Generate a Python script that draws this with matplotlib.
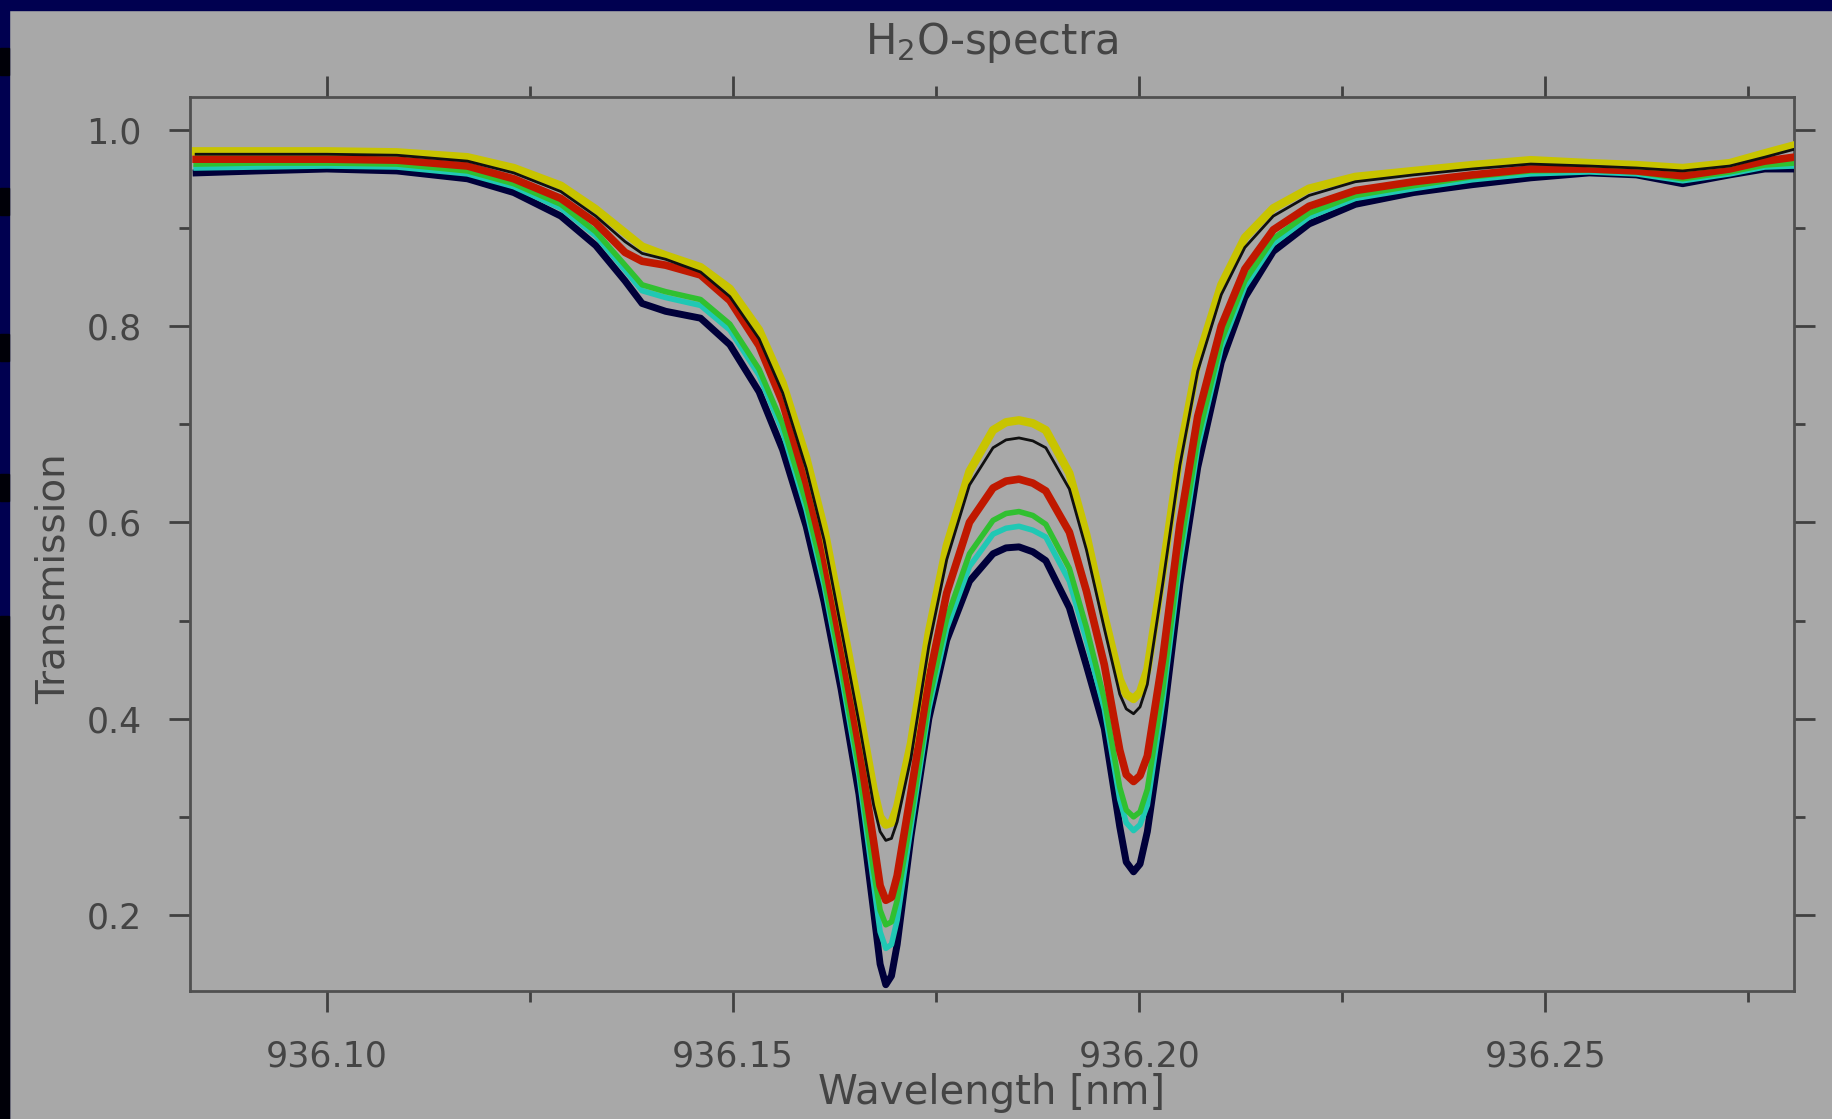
#!/usr/bin/python

# Water vapour transmission spectra around 936.2 nm, one curve per measurement

import matplotlib.pyplot as plt
from matplotlib.patches import Rectangle
from matplotlib.ticker import MultipleLocator, FormatStrFormatter

# wavelength grid [nm]
wavelength = [936.0839, 936.0914, 936.1000, 936.1086, 936.1173, 936.1230,
              936.1288, 936.1331, 936.1367, 936.1388, 936.1417, 936.1460,
              936.1496, 936.1532, 936.1561, 936.1590, 936.1612, 936.1633,
              936.1655, 936.1673, 936.1681, 936.1688, 936.1695, 936.1702,
              936.1719, 936.1741, 936.1763, 936.1791, 936.1820, 936.1836,
              936.1852, 936.1869, 936.1885, 936.1914, 936.1935, 936.1957,
              936.1976, 936.1984, 936.1993, 936.2001, 936.2010, 936.2029,
              936.2050, 936.2072, 936.2101, 936.2130, 936.2165, 936.2209,
              936.2266, 936.2338, 936.2410, 936.2482, 936.2554, 936.2612,
              936.2669, 936.2727, 936.2770, 936.2806]

trans_navy = [0.956, 0.958, 0.960, 0.958, 0.950, 0.936, 0.912, 0.882, 0.846,
              0.823, 0.815, 0.808, 0.781, 0.733, 0.674, 0.596, 0.519, 0.430,
              0.323, 0.204, 0.150, 0.129, 0.138, 0.170, 0.280, 0.400, 0.480,
              0.540, 0.568, 0.574, 0.575, 0.570, 0.561, 0.513, 0.454, 0.390,
              0.290, 0.254, 0.244, 0.252, 0.285, 0.394, 0.537, 0.656, 0.763,
              0.829, 0.876, 0.904, 0.924, 0.936, 0.944, 0.951, 0.956, 0.954,
              0.945, 0.954, 0.960, 0.960]

trans_cyan = [0.961, 0.962, 0.963, 0.962, 0.955, 0.942, 0.920, 0.892, 0.857,
              0.836, 0.829, 0.821, 0.796, 0.750, 0.693, 0.613, 0.536, 0.446,
              0.342, 0.232, 0.183, 0.166, 0.170, 0.195, 0.290, 0.410, 0.492,
              0.555, 0.588, 0.594, 0.596, 0.592, 0.585, 0.540, 0.480, 0.410,
              0.318, 0.294, 0.286, 0.292, 0.312, 0.418, 0.558, 0.676, 0.778,
              0.840, 0.884, 0.911, 0.930, 0.940, 0.949, 0.955, 0.957, 0.955,
              0.948, 0.955, 0.962, 0.963]

trans_green = [0.965, 0.966, 0.966, 0.965, 0.958, 0.945, 0.924, 0.896, 0.862,
               0.842, 0.835, 0.827, 0.802, 0.756, 0.700, 0.620, 0.543, 0.454,
               0.350, 0.245, 0.205, 0.190, 0.193, 0.215, 0.300, 0.418, 0.502,
               0.568, 0.602, 0.609, 0.611, 0.607, 0.598, 0.553, 0.493, 0.420,
               0.330, 0.307, 0.300, 0.305, 0.328, 0.430, 0.570, 0.685, 0.785,
               0.846, 0.889, 0.915, 0.933, 0.943, 0.952, 0.958, 0.959, 0.957,
               0.950, 0.957, 0.964, 0.966]

trans_red = [0.970, 0.970, 0.970, 0.969, 0.963, 0.950, 0.930, 0.905, 0.875,
             0.866, 0.862, 0.852, 0.826, 0.780, 0.722, 0.640, 0.565, 0.474,
             0.372, 0.275, 0.230, 0.215, 0.218, 0.240, 0.325, 0.440, 0.528,
             0.600, 0.635, 0.642, 0.644, 0.640, 0.632, 0.590, 0.530, 0.455,
             0.368, 0.343, 0.336, 0.342, 0.362, 0.462, 0.598, 0.708, 0.800,
             0.858, 0.898, 0.922, 0.938, 0.947, 0.954, 0.960, 0.960, 0.958,
             0.953, 0.960, 0.968, 0.972]

trans_black = [0.975, 0.975, 0.975, 0.974, 0.968, 0.956, 0.937, 0.912, 0.886,
               0.874, 0.868, 0.855, 0.830, 0.787, 0.732, 0.655, 0.582, 0.492,
               0.396, 0.312, 0.285, 0.276, 0.278, 0.295, 0.360, 0.474, 0.562,
               0.638, 0.676, 0.684, 0.686, 0.683, 0.676, 0.634, 0.572, 0.492,
               0.425, 0.410, 0.405, 0.412, 0.435, 0.538, 0.658, 0.754, 0.832,
               0.880, 0.912, 0.933, 0.947, 0.954, 0.960, 0.965, 0.963, 0.961,
               0.958, 0.963, 0.972, 0.980]

trans_yellow = [0.978, 0.978, 0.978, 0.977, 0.972, 0.961, 0.943, 0.919, 0.895,
                0.881, 0.872, 0.860, 0.838, 0.796, 0.742, 0.666, 0.594, 0.505,
                0.410, 0.328, 0.300, 0.292, 0.294, 0.310, 0.375, 0.488, 0.576,
                0.652, 0.694, 0.702, 0.704, 0.701, 0.694, 0.650, 0.587, 0.505,
                0.440, 0.425, 0.420, 0.427, 0.450, 0.551, 0.670, 0.765, 0.842,
                0.890, 0.920, 0.940, 0.952, 0.958, 0.964, 0.969, 0.966, 0.964,
                0.961, 0.966, 0.976, 0.984]

y_ticks = [0.2, 0.4, 0.6, 0.8, 1.0]
x_ticks = [936.10, 936.15, 936.20, 936.25]

bg = '#a8a8a8'
txt = '#444444'

fig = plt.figure(figsize=(18.33, 11.19), dpi=100, facecolor=bg)

# slide frame strips along the top and left edge
fig.patches.append(Rectangle((0, 1 - 10 / 1119.), 1, 10 / 1119.,
                             transform=fig.transFigure, color='#000050',
                             zorder=0))
fig.patches.append(Rectangle((0, 0), 9 / 1833., 1, transform=fig.transFigure,
                             color='#000050', zorder=0))
for y0, y1 in [(48, 75), (188, 215), (334, 361), (474, 501), (616, 1119)]:
    fig.patches.append(Rectangle((0, 1 - y1 / 1119.), 9 / 1833.,
                                 (y1 - y0) / 1119., transform=fig.transFigure,
                                 color='#000008', zorder=0))

ax = fig.add_axes([0.1039, 0.1144, 0.8748, 0.7989], facecolor=bg)

ax.plot(wavelength, trans_navy, color='#00003a', lw=5.0, zorder=3)
ax.plot(wavelength, trans_cyan, color='#20c8b4', lw=4.0, zorder=4)
ax.plot(wavelength, trans_green, color='#30c030', lw=4.0, zorder=5)
ax.plot(wavelength, trans_red, color='#c01800', lw=5.5, zorder=6)
ax.plot(wavelength, trans_yellow, color='#c8c400', lw=6.0, zorder=7)
ax.plot(wavelength, trans_black, color='#101010', lw=2.0, zorder=8)

ax.set_xlim(936.0832, 936.2806)
ax.set_ylim(0.1226, 1.0333)

ax.set_xticks(x_ticks)
ax.set_yticks(y_ticks)
ax.xaxis.set_major_formatter(FormatStrFormatter('%.2f'))
ax.yaxis.set_major_formatter(FormatStrFormatter('%.1f'))
ax.xaxis.set_minor_locator(MultipleLocator(0.025))
ax.yaxis.set_minor_locator(MultipleLocator(0.1))

ax.tick_params(which='major', direction='out', length=15, width=2,
               color='#404040', labelsize=25, labelcolor=txt, pad=20)
ax.tick_params(which='minor', direction='out', length=8, width=2,
               color='#404040')
ax.tick_params(which='both', top=True, right=True)

for s in ax.spines.values():
    s.set_color('#505050')
    s.set_linewidth(2)

fig.text(0.5407, 0.9616, 'H$_2$O-spectra', ha='center', va='center',
         fontsize=30, color=txt)
fig.text(0.5407, 0.0232, 'Wavelength [nm]', ha='center', va='center',
         fontsize=29, color=txt)
fig.text(0.029, 0.483, 'Transmission', ha='center', va='center',
         rotation=90, fontsize=28, color=txt)

fig.savefig('out.png', dpi=100, facecolor=bg)
